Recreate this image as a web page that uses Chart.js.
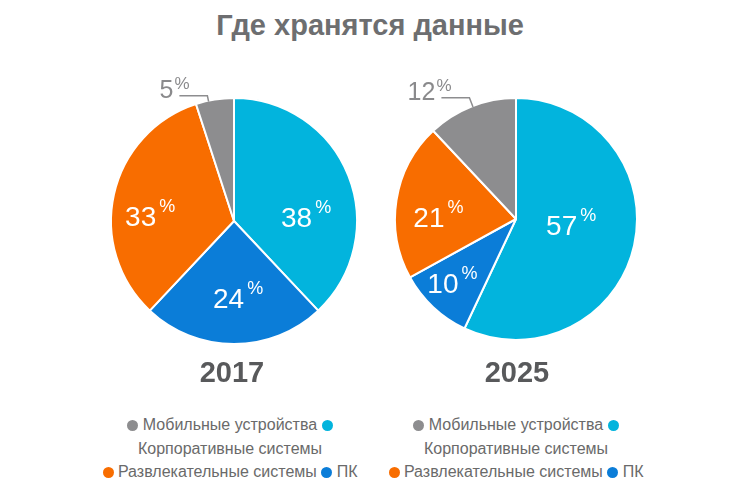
<!DOCTYPE html>
<html lang="ru">
<head>
<meta charset="utf-8">
<title>Где хранятся данные</title>
<script src="https://cdn.jsdelivr.net/npm/chart.js@4.4.1/dist/chart.umd.min.js"></script>
<style>
  html, body { margin: 0; padding: 0; background: #fff; }
  body {
    width: 750px; height: 503px; position: relative; overflow: hidden;
    font-family: "Liberation Sans", Arial, sans-serif;
  }
  #title {
    position: absolute; left: 0; top: 9px; width: 740px; line-height: 32px;
    text-align: center; font-weight: bold; font-size: 29px; color: #6d6e70;
  }
  canvas { position: absolute; }
  .year {
    position: absolute; top: 356px; width: 200px; line-height: 32px;
    text-align: center; font-weight: bold; font-size: 29px; color: #58595b;
  }
  .legend {
    position: absolute; top: 413px; width: 300px; line-height: 23.5px;
    text-align: center; font-size: 16px; color: #6a6a6a;
  }
  .dot {
    display: inline-block; width: 11px; height: 11px; border-radius: 50%;
    vertical-align: -1px;
  }
</style>
</head>
<body>
<div id="title">Где хранятся данные</div>

<canvas id="pie2017" width="300" height="300" style="left:84px; top:71px"></canvas>
<canvas id="pie2025" width="300" height="300" style="left:366px; top:69px"></canvas>

<div class="year" style="left:132px">2017</div>
<div class="year" style="left:417px">2025</div>

<div class="legend" id="legend2017" style="left:80px"></div>
<div class="legend" id="legend2025" style="left:366px"></div>

<script>
// slices in drawing order, clockwise from 12 o'clock
const categories = ['Корпоративные системы', 'ПК', 'Развлекательные системы', 'Мобильные устройства'];
const share2017 = [38, 24, 33, 5];
const share2025 = [57, 10, 21, 12];
const colors = ['#02b4dd', '#0b7dd8', '#f86d00', '#8d8d8f'];

// where the percentage text goes: angle (deg, clockwise from top) and fraction of radius,
// or a leader line of length `len` for the small outside labels
const labels2017 = [{ a: 86, d: 0.51 }, { a: 184, d: 0.63 }, { a: 273, d: 0.76 }, { a: 348, outside: true, len: 5 }];
const labels2025 = [{ a: 97, d: 0.38 }, { a: 229, d: 0.80 }, { a: 271, d: 0.72 }, { a: 339, outside: true, len: 9 }];

// legend rows, as indexes into categories ('d' = marker, 't' = text)
const legendRows = [
  [['d', 3], ['t', 3], ['d', 0]],
  [['t', 0]],
  [['d', 2], ['t', 2], ['d', 1], ['t', 1]]
];

const FONT = '"Liberation Sans", Arial, sans-serif';

const sliceLabels = {
  id: 'sliceLabels',
  afterDatasetsDraw(chart, args, opts) {
    const ctx = chart.ctx;
    const arcs = chart.getDatasetMeta(0).data;
    const values = chart.data.datasets[0].data;
    ctx.save();
    arcs.forEach((arc, i) => {
      const p = opts.placement[i];
      const ang = (p.a - 90) * Math.PI / 180;
      const cx = arc.x, cy = arc.y, r = arc.outerRadius;
      const num = String(values[i]);

      if (p.outside) {
        const sx = cx + Math.cos(ang) * (r - 1), sy = cy + Math.sin(ang) * (r - 1);
        const ex = cx + Math.cos(ang) * (r + p.len), ey = cy + Math.sin(ang) * (r + p.len);
        const lx = ex - 28;
        ctx.strokeStyle = '#8d8d8f';
        ctx.lineWidth = 1.5;
        ctx.beginPath();
        ctx.moveTo(sx, sy);
        ctx.lineTo(ex, ey);
        ctx.lineTo(lx, ey);
        ctx.stroke();

        ctx.fillStyle = '#8a8a8c';
        ctx.font = '25px ' + FONT;
        ctx.textAlign = 'right';
        ctx.textBaseline = 'alphabetic';
        const right = lx - 6;
        ctx.fillText(num, right, ey + 2);
        ctx.font = '17px ' + FONT;
        ctx.textAlign = 'left';
        ctx.fillText('%', right + 1, ey - 7);
        return;
      }

      const x = cx + Math.cos(ang) * r * p.d;
      const y = cy + Math.sin(ang) * r * p.d;
      ctx.fillStyle = '#fff';
      ctx.font = '28px ' + FONT;
      ctx.textAlign = 'center';
      ctx.textBaseline = 'alphabetic';
      ctx.fillText(num, x, y + 10);
      const w = ctx.measureText(num).width;
      ctx.font = '18px ' + FONT;
      ctx.textAlign = 'left';
      ctx.fillText('%', x + w / 2 + 3, y - 4);
    });
    ctx.restore();
  }
};

function makePie(id, values, placement, pad) {
  return new Chart(document.getElementById(id), {
    type: 'pie',
    data: {
      labels: categories,
      datasets: [{
        data: values,
        backgroundColor: colors,
        borderColor: '#fff',
        borderWidth: 2
      }]
    },
    options: {
      responsive: false,
      animation: false,
      layout: { padding: pad },
      plugins: {
        legend: { display: false },
        tooltip: { enabled: false },
        sliceLabels: { placement: placement }
      }
    },
    plugins: [sliceLabels]
  });
}

function buildLegend(id) {
  const box = document.getElementById(id);
  box.innerHTML = legendRows.map(row => row.map(([kind, i]) => kind === 'd'
    ? '<span class="dot" style="background:' + colors[i] + '"></span>'
    : categories[i]).join(' ')).join('<br>');
}

makePie('pie2017', share2017, labels2017, 26);
makePie('pie2025', share2025, labels2025, 28);
buildLegend('legend2017');
buildLegend('legend2025');
</script>
</body>
</html>
